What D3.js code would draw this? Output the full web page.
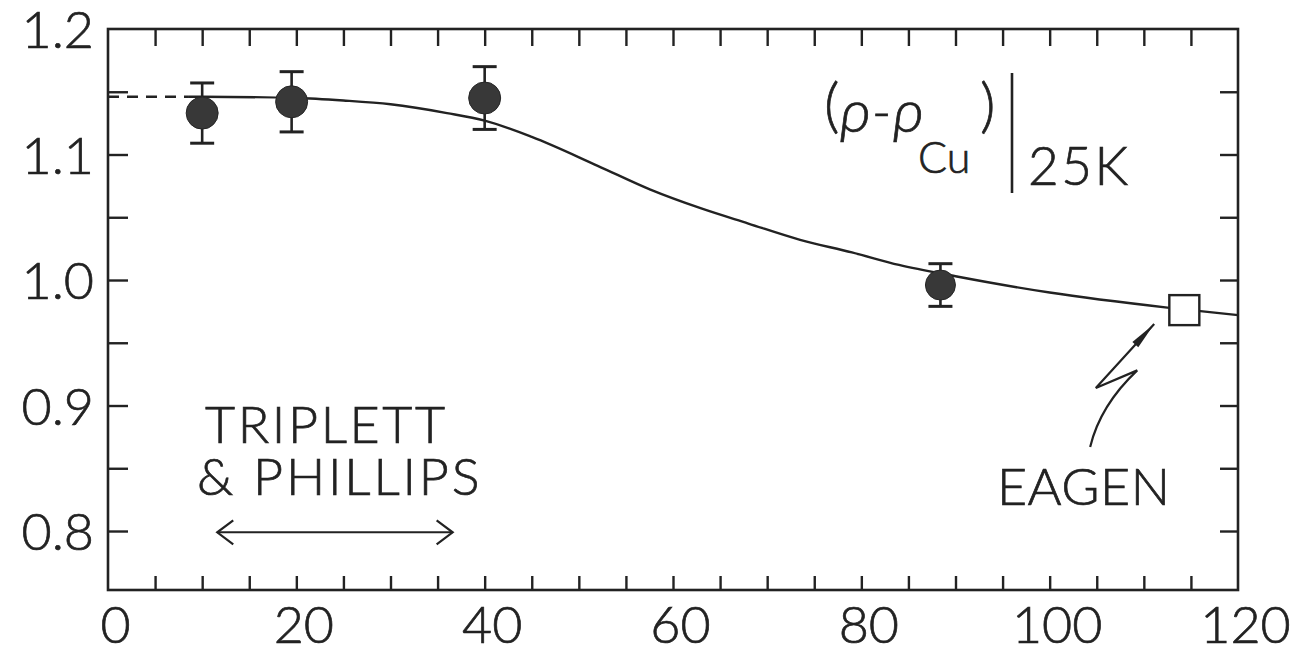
<!DOCTYPE html>
<html>
<head>
<meta charset="utf-8">
<title>rho - rhoCu at 25K</title>
<style>
  body { margin: 0; background: #fff; }
  text { font-family: Lato, "Open Sans", sans-serif; font-weight: 300; fill: #222; stroke: #222; stroke-width: 0.7px; }
</style>
</head>
<body>
<script src="https://cdn.jsdelivr.net/npm/d3@7"></script>
<script>
// measured points (filled circles) with error bars
var pointX = [10, 19.5, 40, 88.4];
var pointY = [1.133, 1.142, 1.145, 0.996];
var pointErr = [0.024, 0.024, 0.025, 0.017];

// Eagen value (open square)
var eagenX = [114.3];
var eagenY = [0.976];

// smooth curve drawn through the data
var curveX = [0, 8.5, 10, 20, 25, 30, 36, 40, 45, 52, 57.6, 63, 68, 73.5, 79, 84, 90, 100, 112.5, 120];
var curveY = [1.146, 1.146, 1.146, 1.145, 1.143, 1.140, 1.133, 1.127, 1.114, 1.091, 1.072, 1.057, 1.045, 1.032, 1.022, 1.012, 1.003, 0.990, 0.978, 0.972];
var dashEnd = 8.5;   // curve is dashed from 0 up to here

// tick labels
var xLabels = [0, 20, 40, 60, 80, 100, 120];
var yLabels = [0.8, 0.9, 1.0, 1.1, 1.2];

var width = 1291, height = 652;
var margin = {top: 29, right: 53, bottom: 62, left: 108};

var svg = d3.select("body").append("svg")
    .attr("width", width)
    .attr("height", height);

var x = d3.scaleLinear().domain([0, 120]).range([margin.left, width - margin.right]);
var y = d3.scaleLinear().domain([0.753, 1.2]).range([height - margin.bottom, margin.top]);

var ink = "#222";

// inward minor ticks on all four sides
var xTicks = d3.range(5, 120, 5);
var yTicks = d3.range(0.8, 1.2, 0.05).map(function(d) { return +d.toFixed(2); });

function ticks(axis, tx, ty) {
    var g = svg.append("g").attr("transform", "translate(" + tx + "," + ty + ")").call(axis);
    g.select(".domain").remove();
    g.selectAll("line").attr("stroke", ink).attr("stroke-width", 2.4);
    g.selectAll("text").remove();
    return g;
}
ticks(d3.axisBottom(x).tickValues(xTicks).tickSize(-14), 0, y.range()[0]);
ticks(d3.axisTop(x).tickValues(xTicks).tickSize(-17), 0, y.range()[1]);
ticks(d3.axisLeft(y).tickValues(yTicks).tickSize(-20), x.range()[0], 0);
ticks(d3.axisRight(y).tickValues(yTicks).tickSize(-18), x.range()[1], 0);

// frame
svg.append("rect")
    .attr("x", x.range()[0]).attr("y", y.range()[1])
    .attr("width", x.range()[1] - x.range()[0])
    .attr("height", y.range()[0] - y.range()[1])
    .attr("fill", "none").attr("stroke", ink).attr("stroke-width", 2.6);

// tick labels
var xl = svg.append("g")
    .attr("transform", "translate(0," + y.range()[0] + ")")
    .call(d3.axisBottom(x).tickValues(xLabels).tickSize(0).tickPadding(16).tickFormat(d3.format("d")));
xl.select(".domain").remove();
xl.selectAll("text").attr("font-size", 52).attr("dx", 7).attr("fill", ink).attr("font-family", null);

var yl = svg.append("g")
    .attr("transform", "translate(" + x.range()[0] + ",0)")
    .call(d3.axisLeft(y).tickValues(yLabels).tickSize(0).tickPadding(14).tickFormat(d3.format(".1f")));
yl.select(".domain").remove();
yl.selectAll("text").attr("font-size", 52).attr("dy", "0.36em").attr("fill", ink).attr("font-family", null);

// curve: dashed start, then solid
var line = d3.line()
    .x(function(d) { return x(d[0]); })
    .y(function(d) { return y(d[1]); })
    .curve(d3.curveMonotoneX);
var curve = curveX.map(function(d, i) { return [d, curveY[i]]; });

svg.append("path")
    .attr("d", line(curve.filter(function(d) { return d[0] <= dashEnd; })))
    .attr("fill", "none").attr("stroke", ink).attr("stroke-width", 2.4)
    .attr("stroke-dasharray", "11,8");
svg.append("path")
    .attr("d", line(curve.filter(function(d) { return d[0] >= dashEnd; })))
    .attr("fill", "none").attr("stroke", ink).attr("stroke-width", 2.4);

// error bars and points
var pts = pointX.map(function(d, i) { return {x: d, y: pointY[i], e: pointErr[i]}; });
var pg = svg.append("g").selectAll("g").data(pts).enter().append("g");
pg.append("line")
    .attr("x1", function(d) { return x(d.x); }).attr("x2", function(d) { return x(d.x); })
    .attr("y1", function(d) { return y(d.y - d.e); }).attr("y2", function(d) { return y(d.y + d.e); })
    .attr("stroke", ink).attr("stroke-width", 2.6);
[-1, 1].forEach(function(s) {
    pg.append("line")
        .attr("x1", function(d) { return x(d.x) - 12; }).attr("x2", function(d) { return x(d.x) + 12; })
        .attr("y1", function(d) { return y(d.y + s * d.e); }).attr("y2", function(d) { return y(d.y + s * d.e); })
        .attr("stroke", ink).attr("stroke-width", 3);
});
pg.append("circle")
    .attr("cx", function(d) { return x(d.x); })
    .attr("cy", function(d) { return y(d.y); })
    .attr("r", function(d, i) { return i == 3 ? 15 : 16; })
    .attr("fill", "#383838").attr("stroke", "#262626").attr("stroke-width", 1);

// Eagen square
svg.append("g").selectAll("rect").data(eagenX).enter().append("rect")
    .attr("x", function(d) { return x(d) - 15; })
    .attr("y", function(d, i) { return y(eagenY[i]) - 15; })
    .attr("width", 30).attr("height", 30)
    .attr("fill", "#fff").attr("stroke", ink).attr("stroke-width", 2.4);

// annotations
function label(txt, dx, dy, size, spacing) {
    return svg.append("text").attr("x", x(dx)).attr("y", y(dy))
        .attr("font-size", size).attr("letter-spacing", spacing || 0).text(txt);
}
label("TRIPLETT", 10.3, 0.870, 52, 2.6);
label("& PHILLIPS", 9.45, 0.829, 52, 2.8);
label("EAGEN", 94.4, 0.821, 52, 0.5);

// double arrow under Triplett & Phillips
var ay = y(0.799);
var ax1 = x(11.6), ax2 = x(36.6);
svg.append("line").attr("x1", ax1).attr("x2", ax2).attr("y1", ay).attr("y2", ay)
    .attr("stroke", ink).attr("stroke-width", 2.2);
svg.append("path")
    .attr("d", "M" + (ax1 + 16) + "," + (ay - 12) + "L" + ax1 + "," + ay + "L" + (ax1 + 16) + "," + (ay + 12) +
               "M" + (ax2 - 16) + "," + (ay - 12) + "L" + ax2 + "," + ay + "L" + (ax2 - 16) + "," + (ay + 12))
    .attr("fill", "none").attr("stroke", ink).attr("stroke-width", 2.2);

// zigzag pointer from EAGEN to the square
var zig = [[104.3, 0.867], [109.3, 0.928], [104.9, 0.914], [111.1, 0.965]];
svg.append("path")
    .attr("d", "M" + x(zig[0][0]) + "," + y(zig[0][1]) +
               "Q" + (x(zig[0][0]) + 10) + "," + (y(zig[1][1]) + 35) + " " + x(zig[1][0]) + "," + y(zig[1][1]) +
               "L" + x(zig[2][0]) + "," + y(zig[2][1]) +
               "L" + x(zig[3][0]) + "," + y(zig[3][1]))
    .attr("fill", "none").attr("stroke", ink).attr("stroke-width", 2.2);
// slender filled arrow head
(function() {
    var tx = x(zig[3][0]), ty = y(zig[3][1]);
    var bx = x(zig[2][0]), by = y(zig[2][1]);
    var ang = Math.atan2(ty - by, tx - bx);
    var len = 28, w = 4;
    var cx = tx - len * Math.cos(ang), cy = ty - len * Math.sin(ang);
    var px = -Math.sin(ang) * w, py = Math.cos(ang) * w;
    svg.append("path")
        .attr("d", "M" + tx + "," + ty + "L" + (cx + px) + "," + (cy + py) + "L" + (cx - px) + "," + (cy - py) + "Z")
        .attr("fill", ink);
})();

// (rho - rho_Cu) | 25K
var rl = svg.append("g");
rl.append("text").attr("x", 824).attr("y", 126).attr("font-size", 60).text("(");
rl.append("text").attr("x", 840).attr("y", 132).attr("font-size", 60).attr("font-style", "italic").text("ρ");
rl.append("text").attr("x", 872).attr("y", 130).attr("font-size", 52).text("-");
rl.append("text").attr("x", 893).attr("y", 132).attr("font-size", 60).attr("font-style", "italic").text("ρ");
rl.append("text").attr("x", 918).attr("y", 173).attr("font-size", 43).text("Cu");
rl.append("text").attr("x", 980).attr("y", 126).attr("font-size", 60).text(")");
rl.append("line").attr("x1", 1012).attr("x2", 1012).attr("y1", 73).attr("y2", 193)
    .attr("stroke", ink).attr("stroke-width", 2.6);
rl.append("text").attr("x", 1028).attr("y", 185).attr("font-size", 53).attr("letter-spacing", 2.5).text("25K");
</script>
</body>
</html>
